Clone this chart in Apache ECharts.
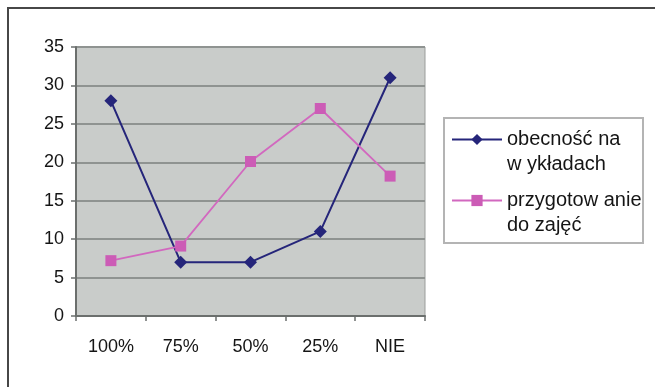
<!DOCTYPE html>
<html>
<head>
<meta charset="utf-8">
<script src="https://cdn.jsdelivr.net/npm/echarts@6/dist/echarts.min.js"></script>
<style>
  html, body { margin: 0; padding: 0; background: #ffffff; }
  #chart { width: 655px; height: 387px; }
</style>
</head>
<body>
<div id="chart"></div>
<script>
// Attendance categories on the x axis
const categories = ['100%', '75%', '50%', '25%', 'NIE'];

// Series names (as printed in the legend)
const nameAttendance = 'obecność na\nw ykładach';
const namePreparation = 'przygotow anie\ndo zajęć';

// Series values
const attendance = [28, 7, 7, 11, 31];
const preparation = [7.2, 9.1, 20.1, 27, 18.2];

// Value axis ticks
const yMin = 0, yMax = 35, yStep = 5;

const FONT = '"Liberation Sans", Arial, sans-serif';

const chart = echarts.init(document.getElementById('chart'), null, { renderer: 'canvas' });

chart.setOption({
  animation: false,
  backgroundColor: '#ffffff',
  textStyle: { fontFamily: FONT },
  graphic: [
    {
      type: 'rect',
      silent: true,
      z: -10,
      shape: { x: 8, y: 8, width: 700, height: 420 },
      style: { fill: 'none', stroke: '#474747', lineWidth: 2 }
    },
    {
      type: 'rect',
      silent: true,
      z: -5,
      shape: { x: 444, y: 118, width: 199, height: 125 },
      style: { fill: '#ffffff', stroke: '#b4b4b4', lineWidth: 2 }
    }
  ],
  grid: {
    left: 76, top: 47, right: 230, bottom: 71,
    show: true,
    backgroundColor: '#c9ccca',
    borderColor: '#9a9d9b',
    borderWidth: 1
  },
  legend: {
    orient: 'vertical',
    left: 451,
    top: 102,
    padding: 0,
    itemGap: -14,
    itemWidth: 50,
    itemHeight: 14,
    data: [nameAttendance, namePreparation],
    // leading blank line keeps the first text line level with the icon
    formatter: name => '\n' + name,
    textStyle: {
      fontFamily: FONT,
      fontSize: 20,
      color: '#151515',
      lineHeight: 25
    }
  },
  xAxis: {
    type: 'category',
    data: categories,
    boundaryGap: true,
    axisLine: { lineStyle: { color: '#6b6f6d', width: 2 } },
    axisTick: { show: true, length: 5, inside: false, lineStyle: { color: '#6b6f6d', width: 1.5 } },
    axisLabel: { fontSize: 18, color: '#151515', margin: 22, fontFamily: FONT },
    splitLine: { show: false }
  },
  yAxis: {
    type: 'value',
    min: yMin, max: yMax, interval: yStep,
    axisLine: { show: true, lineStyle: { color: '#6b6f6d', width: 2 } },
    axisTick: { show: true, length: 5, lineStyle: { color: '#6b6f6d', width: 1.5 } },
    axisLabel: { fontSize: 18, color: '#151515', margin: 12, fontFamily: FONT },
    splitLine: { show: true, lineStyle: { color: '#8f9391', width: 2 } }
  },
  series: [
    {
      name: nameAttendance,
      type: 'line',
      data: attendance,
      symbol: 'diamond',
      symbolSize: 13,
      lineStyle: { color: '#25257a', width: 2 },
      itemStyle: { color: '#25257a' }
    },
    {
      name: namePreparation,
      type: 'line',
      data: preparation,
      symbol: 'rect',
      symbolSize: 11,
      lineStyle: { color: '#d268bf', width: 1.8 },
      itemStyle: { color: '#cc5cb6' }
    }
  ]
});
</script>
</body>
</html>
